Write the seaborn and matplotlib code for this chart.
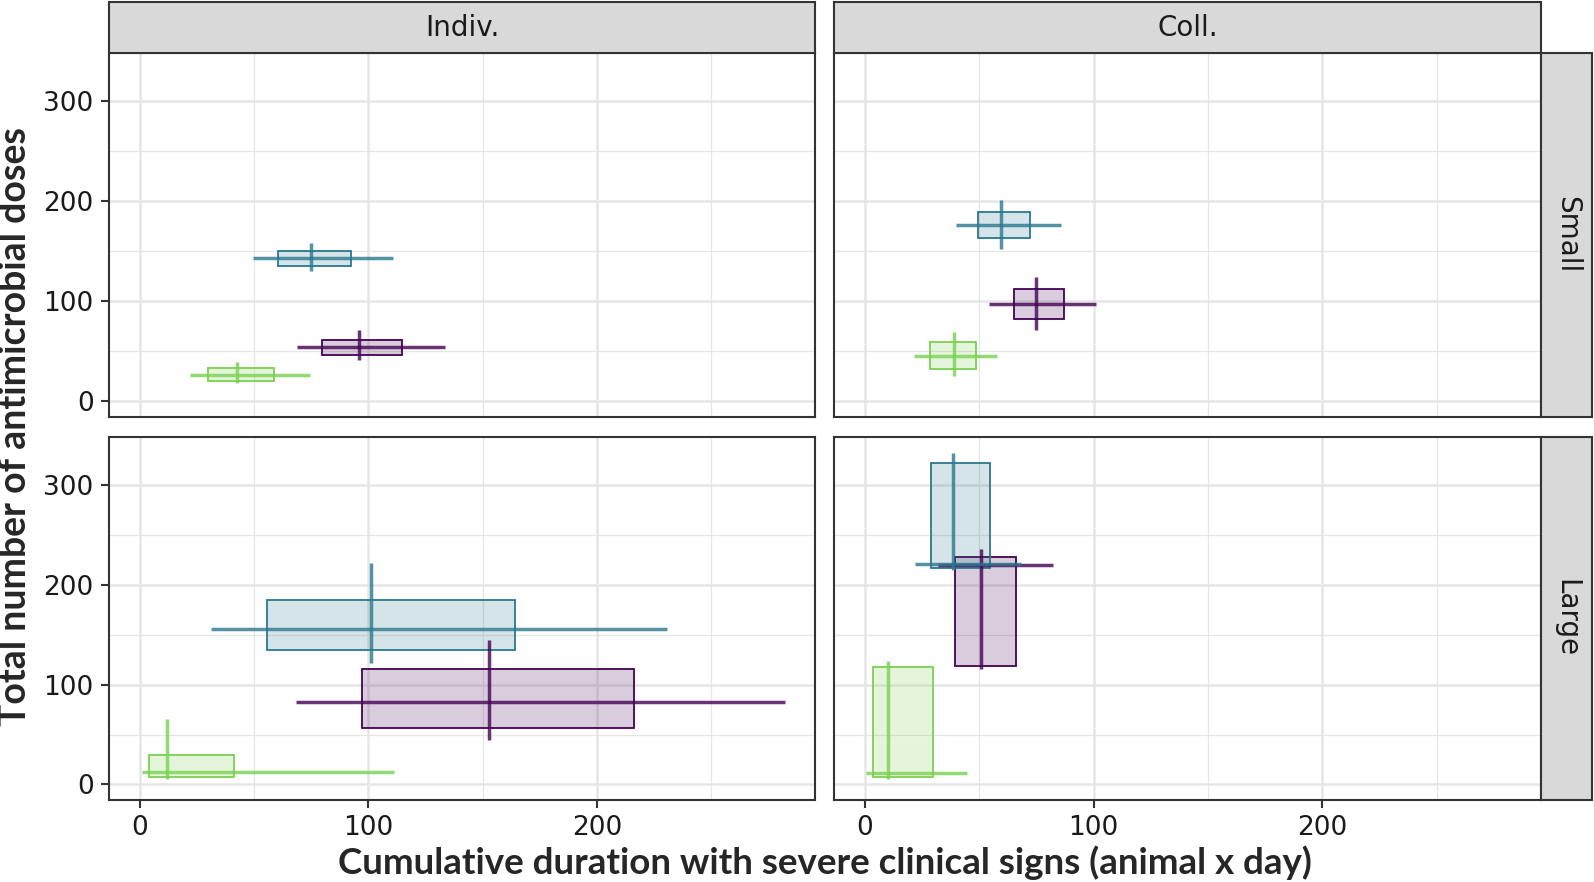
import numpy as np
import pandas as pd
import matplotlib
import matplotlib.pyplot as plt
from matplotlib.patches import Rectangle
import seaborn as sns

matplotlib.use("Agg")

TYPES = ["Indiv.", "Coll."]
SIZES = ["Small", "Large"]
PALETTE = {"A": "#440154", "B": "#2A788E", "C": "#7AD151"}

# one entry per (panel, group): Indiv/Small, Coll/Small, Indiv/Large, Coll/Large
facet_type = ["Indiv."] * 3 + ["Coll."] * 3 + ["Indiv."] * 3 + ["Coll."] * 3
facet_size = ["Small"] * 6 + ["Large"] * 6
group = ["A", "B", "C"] * 4

# interquartile boxes
box_x_lo = [79.8, 60.3, 29.9, 65.1, 49.3, 28.3, 97.3, 55.4, 3.9, 39.3, 28.8, 3.5]
box_x_hi = [114.8, 92.5, 58.5, 87.0, 72.0, 48.4, 216.3, 164.1, 41.1, 66.0, 54.5, 29.6]
box_y_lo = [46.4, 135.5, 20.3, 82.1, 162.9, 32.0, 56.7, 134.7, 7.0, 118.7, 216.7, 7.3]
box_y_hi = [61.1, 150.2, 33.3, 111.8, 189.2, 59.4, 115.3, 185.0, 29.0, 227.7, 322.7, 117.7]
# horizontal ranges (drawn at median y)
x_min = [68.6, 49.6, 22.0, 54.3, 39.9, 21.3, 68.5, 31.1, 1.0, 32.1, 22.0, 0.6]
x_max = [133.7, 110.9, 74.3, 101.0, 85.7, 57.8, 282.3, 230.8, 111.2, 82.3, 68.3, 44.5]
y_mid = [54.4, 143.2, 26.3, 96.8, 176.5, 45.4, 82.7, 156.3, 12.0, 219.7, 220.7, 11.0]
# vertical ranges (drawn at median x)
x_mid = [95.9, 74.7, 42.3, 74.8, 59.6, 38.8, 152.7, 101.2, 11.6, 50.7, 38.4, 9.9]
y_min = [40.7, 130.5, 17.7, 71.4, 152.2, 25.3, 44.0, 122.0, 5.3, 116.0, 215.0, 5.3]
y_max = [71.1, 158.5, 39.3, 124.2, 201.3, 69.4, 145.0, 221.7, 65.7, 235.7, 332.3, 123.7]

X_LABEL = "Cumulative duration with severe clinical signs (animal x day)"
Y_LABEL = "Total number of antimicrobial doses"

W, H = 1594, 882
DARK = "#333333"
STRIP_FILL = "#D9D9D9"
GRID = "#E6E6E6"


def draw_cross(data, **kws):
    ax = plt.gca()
    for _, r in data.iterrows():
        c = PALETTE[r["group"]]
        ax.add_patch(Rectangle((r["box_x_lo"], r["box_y_lo"]),
                               r["box_x_hi"] - r["box_x_lo"],
                               r["box_y_hi"] - r["box_y_lo"],
                               facecolor=matplotlib.colors.to_rgba(c, 0.2),
                               edgecolor=c, linewidth=1.3, zorder=2))
    for _, r in data.iterrows():
        c = PALETTE[r["group"]]
        ax.hlines(r["y_mid"], r["x_min"], r["x_max"], color=c, alpha=0.8,
                  linewidth=2.5, zorder=3)
        ax.vlines(r["x_mid"], r["y_min"], r["y_max"], color=c, alpha=0.8,
                  linewidth=2.5, zorder=3)


def px_box(x0, y0, x1, y1):
    return [x0 / W, 1 - y1 / H, (x1 - x0) / W, (y1 - y0) / H]


def main():
    sns.set_theme(style="white")
    plt.rcParams["font.family"] = ["DejaVu Sans"]

    df = pd.DataFrame({
        "type": facet_type, "size": facet_size, "group": group,
        "box_x_lo": box_x_lo, "box_x_hi": box_x_hi,
        "box_y_lo": box_y_lo, "box_y_hi": box_y_hi,
        "x_min": x_min, "x_max": x_max, "y_mid": y_mid,
        "x_mid": x_mid, "y_min": y_min, "y_max": y_max,
    })

    g = sns.FacetGrid(df, row="size", col="type", row_order=SIZES,
                      col_order=TYPES, sharex=True, sharey=True, despine=False)
    g.map_dataframe(draw_cross)
    g.set_titles("")
    g.set_axis_labels("", "")

    fig = g.figure
    fig.set_size_inches(W / 100, H / 100)
    fig.set_dpi(100)

    col_x = [(108.8, 815.3), (833.6, 1541.2)]
    row_y = [(52.9, 416.8), (437.1, 800.0)]

    for i in range(2):
        for j in range(2):
            ax = g.axes[i, j]
            x0, x1 = col_x[j]
            y0, y1 = row_y[i]
            ax.set_position(px_box(x0, y0, x1, y1))
            ax.set_xlim(-13.7, 295.7)
            ax.set_ylim(-15.7, 348.4)
            ax.set_xticks([0, 100, 200])
            ax.set_xticks([50, 150, 250], minor=True)
            ax.set_yticks([0, 100, 200, 300])
            ax.set_yticks([50, 150, 250], minor=True)
            ax.grid(True, which="major", color=GRID, linewidth=1.8, zorder=0)
            ax.grid(True, which="minor", color=GRID, linewidth=0.9, zorder=0)
            ax.set_axisbelow(True)
            for spine in ax.spines.values():
                spine.set_color(DARK)
                spine.set_linewidth(1.5)
            ax.tick_params(axis="both", which="major", length=6, width=1.5,
                           color=DARK, labelsize=19, labelcolor="#1A1A1A", pad=5)
            ax.tick_params(axis="both", which="minor", length=0)
            ax.tick_params(axis="x", bottom=(i == 1), labelbottom=(i == 1))
            ax.tick_params(axis="y", left=(j == 0), labelleft=(j == 0))

            # top strips
            if i == 0:
                fig.patches.append(Rectangle(
                    (x0 / W, 1 - 52.9 / H), (x1 - x0) / W, 51.0 / H,
                    transform=fig.transFigure, facecolor=STRIP_FILL,
                    edgecolor=DARK, linewidth=1.5, zorder=1))
                fig.text((x0 + x1) / 2 / W, 1 - 27.5 / H, TYPES[j],
                         ha="center", va="center", fontsize=20, color="#1A1A1A")
            # right strips
            if j == 1:
                fig.patches.append(Rectangle(
                    (1541.2 / W, 1 - y1 / H), 51.0 / W, (y1 - y0) / H,
                    transform=fig.transFigure, facecolor=STRIP_FILL,
                    edgecolor=DARK, linewidth=1.5, zorder=1))
                fig.text(1566.7 / W, 1 - (y0 + y1) / 2 / H, SIZES[i],
                         ha="center", va="center", rotation=-90, fontsize=20,
                         color="#1A1A1A")

    fig.text(825 / W, 1 - 863 / H, X_LABEL, ha="center", va="center",
             fontsize=26.5, fontweight="bold", family=["Lato", "DejaVu Sans"])
    fig.text(15.5 / W, 1 - 426.5 / H, Y_LABEL, ha="center", va="center",
             rotation=90, fontsize=27, fontweight="bold",
             family=["Lato", "DejaVu Sans"])

    fig.savefig("out.png", dpi=100)
    plt.close(fig)


if __name__ == "__main__":
    main()
